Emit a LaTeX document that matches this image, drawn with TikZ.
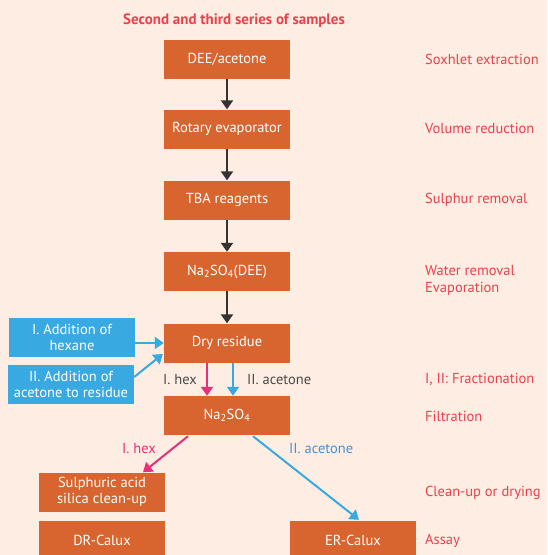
\documentclass[tikz,border=0pt]{standalone}
\usepackage{fontspec}
\setmainfont{PT Sans}
\usetikzlibrary{arrows.meta,calc}
\definecolor{bgpeach}{HTML}{FDEDE2}
\definecolor{boxorange}{HTML}{D8652F}
\definecolor{boxblue}{HTML}{38A9E1}
\definecolor{hexpink}{HTML}{E6307A}
\definecolor{steptext}{HTML}{E9414E}
\definecolor{acetblue}{HTML}{4A90D0}
\definecolor{flowgray}{HTML}{333333}
\definecolor{labelgray}{HTML}{4A4A4A}
\begin{document}
\begin{tikzpicture}[x=1pt,y=-1pt,
  box/.style={rectangle,fill=boxorange,text=white,minimum width=126pt,minimum height=39pt,
    inner sep=0pt,align=center,font=\fontsize{14.5}{16}\selectfont},
  addbox/.style={box,fill=boxblue},
  steplabel/.style={anchor=west,text=steptext,align=left,inner sep=0pt,font=\fontsize{14.5}{17}\selectfont},
  flow/.style={draw=flowgray,line width=2pt,-{Triangle[width=12pt,length=9pt]}},
  hexflow/.style={flow,draw=hexpink,-{Triangle[width=12pt,length=9pt,fill=hexpink]}},
  acetflow/.style={flow,draw=boxblue,-{Triangle[width=12pt,length=9pt,fill=boxblue]}},
  branch/.style={inner sep=0pt,font=\fontsize{14.5}{16}\selectfont}]
\fill[bgpeach] (0,0) rectangle (547,555);
\useasboundingbox (0,0) rectangle (547,555);

\node[text=steptext,font=\fontsize{15}{16}\selectfont\bfseries] (title) at (234,21) {Second and third series of samples};

% main column
\node[box] (dee) at (227,59.5) {DEE/acetone};
\node[box] (rot) at (227,129) {Rotary evaporator};
\node[box] (tba) at (227,200) {TBA reagents};
\node[box] (nadee) at (227,271.5) {Na\textsubscript{2}SO\textsubscript{4}(DEE)};
\node[box] (dry) at (227,343) {Dry residue};
\node[box] (na) at (227,415.5) {Na\textsubscript{2}SO\textsubscript{4}};

% additions
\node[addbox] (addhex) at (72,337.5) {I. Addition of\\hexane};
\node[addbox] (addace) at (71,384.5) {II. Addition of\\acetone to residue};

% outputs
\node[box] (silica) at (102,492) {Sulphuric acid\\silica clean-up};
\node[box] (dr) at (102,540) {DR-Calux};
\node[box] (er) at (353,540.5) {ER-Calux};

% flow arrows
\draw[flow] (dee) -- (rot);
\draw[flow] (rot) -- (tba);
\draw[flow] (tba) -- (nadee);
\draw[flow] (nadee) -- (dry);
\draw[acetflow] (addhex.east |- dry.west) -- (dry.west);
\draw[acetflow] ($(addace.east)+(0,-7.5)$) -- ($(dry.west)+(-1,11)$);
\draw[hexflow] ($(dry.south)+(-20,0)$) -- ($(na.north)+(-20,0)$);
\draw[acetflow] ($(dry.south)+(6,0)$) -- ($(na.north)+(6,0)$);
\node[branch,text=labelgray,anchor=west] (hexa) at (163,380) {I. hex};
\node[branch,text=labelgray,anchor=west] (aceta) at (247,380) {II. acetone};

\coordinate (hexstart) at ($(na.south)+(-39,1)$);
\coordinate (acestart) at ($(na.south)+(26,1)$);
\draw[hexflow] (hexstart) -- ($(silica.north)+(41,0)$);
\draw[acetflow] (acestart) -- ($(er.north)+(6,-1)$);
\node[branch,text=hexpink,anchor=west] (hexb) at (122,449) {I. hex};
\node[branch,text=acetblue,anchor=west] (aceb) at (289,449) {II. acetone};

% step descriptions
\node[steplabel] (s1) at (425,59.5) {Soxhlet extraction};
\node[steplabel] (s2) at (425,128.5) {Volume reduction};
\node[steplabel] (s3) at (425,200) {Sulphur removal};
\node[steplabel] (s4) at (425,280.5) {Water removal\\Evaporation};
\node[steplabel] (s5) at (425,379.5) {I, II: Fractionation};
\node[steplabel] (s6) at (425,416.5) {Filtration};
\node[steplabel] (s7) at (425,492.5) {Clean-up or drying};
\node[steplabel] (s8) at (425,540.5) {Assay};
\end{tikzpicture}
\end{document}
